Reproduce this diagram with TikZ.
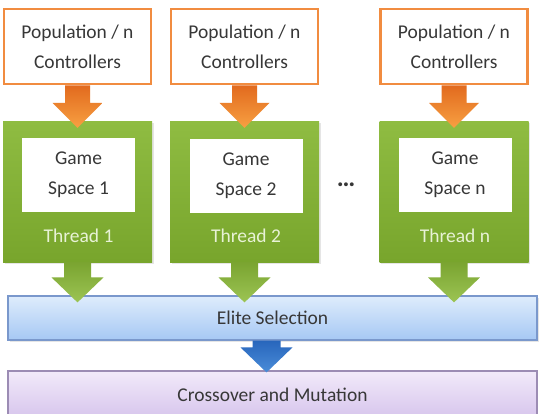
\documentclass[tikz,border=0pt]{standalone}
\usepackage{fontspec}
\setmainfont{Carlito}
\usetikzlibrary{calc,shadows}
\definecolor{orbord}{RGB}{241,140,64}
\definecolor{ortop}{RGB}{226,106,30}
\definecolor{orbot}{RGB}{247,160,66}
\definecolor{grtop}{RGB}{143,188,66}
\definecolor{grbot}{RGB}{120,165,44}
\definecolor{garrtop}{RGB}{122,164,48}
\definecolor{garrbot}{RGB}{156,196,84}
\definecolor{threadtxt}{RGB}{232,242,214}
\definecolor{txt}{RGB}{55,55,55}
\definecolor{bltop}{RGB}{222,236,252}
\definecolor{blbot}{RGB}{166,200,244}
\definecolor{blbord}{RGB}{122,152,204}
\definecolor{pptop}{RGB}{242,234,250}
\definecolor{ppbot}{RGB}{214,196,236}
\definecolor{ppbord}{RGB}{156,140,180}
\definecolor{barrtop}{RGB}{40,102,188}
\definecolor{barrbot}{RGB}{74,140,216}
\newcommand\fatarrow[7]{% #1 style, #2 start coord, #3 target coord, #4 shaft half, #5 head half, #6 head length, #7 overshoot
  \coordinate (tip) at ($(#2 |- #3)+(0,#7)$);
  \path[#1] ($(#2)+(-#4,0)$) -- ($(tip)+(-#4,-#6)$) -- ($(tip)+(-#5,-#6)$) -- (tip)
    -- ($(tip)+(#5,-#6)$) -- ($(tip)+(#4,-#6)$) -- ($(#2)+(#4,0)$) -- cycle;}
\begin{document}
\begin{tikzpicture}[x=1pt,y=-1pt,
  every node/.style={font=\fontsize{19.5}{30}\selectfont, text=txt, align=center, inner sep=0pt},
  popbox/.style={draw=orbord, line width=2.5pt, fill=white, minimum width=147pt, minimum height=75pt},
  threadbox/.style={top color=grtop, bottom color=grbot, minimum width=149pt, minimum height=141pt,
    drop shadow={opacity=0.2, shadow xshift=1.5pt, shadow yshift=-1.5pt}},
  spacebox/.style={fill=white, minimum width=113pt, minimum height=74pt},
  threadlbl/.style={text=threadtxt},
  elitebar/.style={top color=bltop, bottom color=blbot, draw=blbord, line width=1.2pt,
    minimum width=529pt, minimum height=44pt,
    drop shadow={opacity=0.2, shadow xshift=1.5pt, shadow yshift=-1.5pt}},
  crossbar/.style={top color=pptop, bottom color=ppbot, draw=ppbord, line width=1.2pt,
    minimum width=529pt, minimum height=48pt},
  orarrow/.style={top color=ortop, bottom color=orbot},
  grarrow/.style={top color=garrtop, bottom color=garrbot},
  blarrow/.style={top color=barrtop, bottom color=barrbot}]
\useasboundingbox (0,0) rectangle (540,413);
\fill[white] (0,0) rectangle (540,413);

% population boxes
\node[popbox] (p1) at (77.5,46.5) {Population / n\\Controllers};
\node[popbox] (p2) at (244.5,46.5) {Population / n\\Controllers};
\node[popbox] (p3) at (454,46.5) {Population / n\\Controllers};

% thread boxes
\node[threadbox] (g1) at (77.5,191.5) {};
\node[threadbox] (g2) at (244.5,191.5) {};
\node[threadbox] (g3) at (454,191.5) {};

\node[spacebox] (s1) at (78.5,175) {Game\\Space 1};
\node[spacebox] (s2) at (246,175.5) {Game\\Space 2};
\node[spacebox] (s3) at (455,175) {Game\\Space n};

\node[threadlbl] (t1) at (78.5,236) {Thread 1};
\node[threadlbl] (t2) at (246,236) {Thread 2};
\node[threadlbl] (t3) at (455,236) {Thread n};

\node[font=\fontsize{26}{30}\selectfont] (dots) at (346,185) {\textbf{…}};

% bars
\node[elitebar] (es) at (272.5,318) {Elite Selection};
\node[crossbar] (cm) at (272.5,395) {Crossover and Mutation};

% arrows
\fatarrow{orarrow}{p1.south}{g1.north}{12.5}{25}{25}{7}
\fatarrow{orarrow}{p2.south}{g2.north}{12.5}{25}{25}{7}
\fatarrow{orarrow}{p3.south}{g3.north}{12.5}{25}{25}{7}

\fatarrow{grarrow}{g1.south}{es.north}{13.5}{26}{25}{7}
\fatarrow{grarrow}{g2.south}{es.north}{13.5}{26}{25}{7}
\fatarrow{grarrow}{g3.south}{es.north}{13.5}{26}{25}{7}

\coordinate (bs) at ($(es.south)+(-6,0)$);
\fatarrow{blarrow}{bs}{cm.north}{14}{26}{25}{2}
\end{tikzpicture}
\end{document}
